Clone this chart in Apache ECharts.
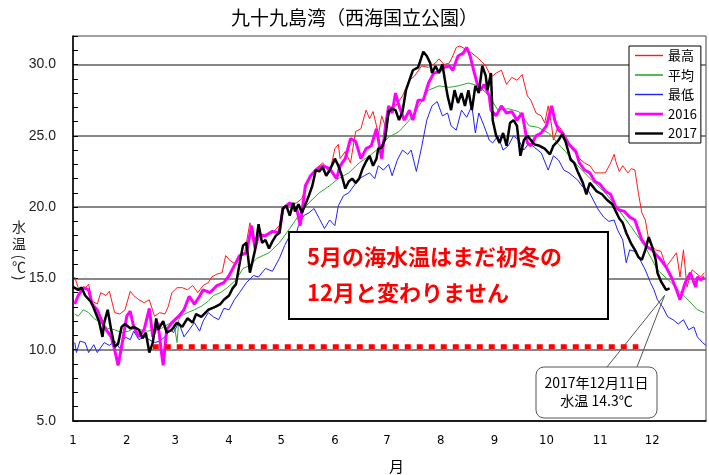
<!DOCTYPE html>
<html><head><meta charset="utf-8">
<script src="https://cdn.jsdelivr.net/npm/echarts@6/dist/echarts.min.js"></script>
<style>html,body{margin:0;padding:0;background:#fff}#c{width:709px;height:475px}</style>
</head><body><div id="c"></div>
<script>
const titleText = '九十九島湾（西海国立公園）';
const monthStartDays = [1, 32, 60, 91, 121, 152, 182, 213, 244, 274, 305, 335];
const monthLabels = ['1','2','3','4','5','6','7','8','9','10','11','12'];
const seriesNames = ['最高', '平均', '最低', '2016', '2017'];
const yNameChars = ['水', '温', '(', '℃', ')'];

// [day of year, °C]
const tMax = [[2,15.1],[4,14.35],[7,14.2],[10,14.6],[12,13.4],[15,13.2],[17,14.0],[20,13.8],[22,14.1],[25,12.6],[28,12.5],[31,12.8],[34,14.1],[36,13.8],[39,13.5],[42,13.3],[45,13.5],[48,12.35],[51,12.6],[54,12.5],[56,13.05],[58,14.0],[61,14.35],[64,14.35],[67,14.2],[70,14.5],[73,14.0],[76,14.5],[79,14.7],[81,15.1],[84,15.3],[87,15.4],[89,16.6],[92,16.2],[95,16.0],[97,16.4],[100,16.8],[103,18.9],[105,17.5],[108,18.2],[112,18.0],[116,18.2],[120,18.7],[123,20.1],[126,20.1],[130,20.3],[133,20.6],[137,22.0],[141,22.7],[145,23.1],[149,22.4],[152,24.1],[154,24.4],[155,23.4],[158,23.9],[161,23.1],[164,25.3],[167,25.5],[170,26.8],[172,26.2],[174,26.7],[176,25.7],[177,25.0],[179,26.4],[181,25.7],[185,27.1],[187,27.1],[191,27.8],[195,28.9],[198,29.2],[202,29.9],[206,29.8],[210,30.1],[212,30.4],[215,30.0],[218,30.1],[220,30.6],[222,31.2],[224,31.3],[227,31.1],[231,30.8],[235,30.4],[239,29.9],[241,29.4],[242,29.1],[245,29.4],[248,29.6],[251,28.6],[254,29.1],[257,28.9],[260,29.3],[263,27.8],[265,27.5],[268,26.6],[271,26.4],[273,25.9],[275,27.1],[277,25.7],[278,24.7],[280,25.4],[281,25.7],[284,25.2],[287,24.5],[289,24.0],[291,23.8],[293,23.4],[296,23.1],[299,22.9],[302,22.4],[305,22.4],[308,22.4],[311,23.1],[313,23.7],[314,23.2],[316,22.5],[318,22.9],[321,22.4],[323,22.7],[325,22.6],[327,21.0],[329,19.6],[331,19.1],[333,17.7],[335,17.2],[337,17.0],[340,16.9],[343,15.8],[346,16.3],[349,16.8],[351,15.1],[353,17.0],[355,14.4],[358,15.6],[360,15.4],[363,15.1],[365,15.4]];

const tAvg = [[2,12.5],[4,12.35],[7,12.8],[10,12.6],[13,12.2],[17,11.9],[21,11.5],[25,11.4],[29,11.2],[33,11.3],[36,11.5],[40,11.4],[44,11.3],[48,11.4],[52,11.5],[56,11.8],[59,12.0],[61,10.5],[62,12.1],[63,12.35],[67,12.6],[71,12.8],[75,13.05],[79,13.4],[82,13.8],[86,14.0],[90,14.35],[95,14.9],[99,15.7],[103,15.9],[107,16.4],[114,16.8],[120,17.5],[126,18.5],[131,19.4],[137,20.3],[143,21.0],[149,21.5],[154,22.0],[160,22.4],[166,23.1],[172,23.6],[177,24.1],[183,24.9],[189,25.3],[195,26.1],[200,27.0],[206,28.2],[212,28.5],[218,28.4],[223,28.5],[229,28.7],[235,28.5],[241,27.8],[246,26.8],[252,26.9],[258,26.7],[264,25.7],[269,25.6],[275,25.2],[277,25.0],[281,24.4],[285,23.9],[292,22.9],[300,21.9],[308,21.0],[315,19.9],[323,18.6],[331,17.2],[338,15.6],[346,14.7],[354,13.7],[361,12.8],[365,12.6]];

const tMin = [[2,10.5],[3,9.8],[5,10.6],[8,10.5],[10,9.8],[13,10.35],[15,9.8],[19,10.5],[22,10.3],[25,10.6],[28,10.1],[31,10.9],[34,10.7],[36,11.3],[39,10.7],[42,10.9],[45,10.7],[48,10.5],[51,10.6],[54,10.9],[57,11.4],[59,11.2],[62,11.9],[65,10.9],[68,11.4],[71,11.9],[74,11.3],[76,12.0],[79,12.6],[82,12.3],[85,12.1],[88,12.9],[91,12.8],[94,13.5],[97,14.0],[101,14.7],[105,15.2],[108,15.1],[112,15.7],[116,15.5],[120,16.4],[123,17.3],[126,18.0],[129,17.8],[131,18.7],[134,19.4],[137,19.6],[140,19.9],[143,19.2],[146,18.5],[149,19.1],[152,18.7],[154,20.1],[157,20.8],[160,21.0],[163,21.5],[166,22.0],[169,22.2],[172,22.4],[175,22.0],[177,22.9],[180,22.6],[183,23.0],[185,22.2],[188,23.3],[191,24.0],[194,23.7],[196,24.0],[199,22.5],[202,24.2],[205,26.1],[208,27.1],[211,27.4],[214,26.4],[217,26.6],[219,25.7],[222,25.4],[225,26.8],[228,26.3],[231,27.1],[233,25.2],[235,26.6],[238,25.7],[241,24.7],[243,24.5],[246,25.0],[249,24.0],[252,24.3],[255,25.0],[258,24.7],[261,24.0],[264,24.5],[267,24.2],[271,23.8],[275,22.6],[278,23.6],[281,23.3],[284,22.6],[287,22.4],[290,22.1],[292,21.9],[295,21.4],[298,21.2],[301,20.5],[304,19.8],[307,19.3],[310,19.0],[313,19.1],[315,18.4],[318,17.7],[320,16.1],[322,17.0],[325,16.9],[328,16.3],[331,15.6],[334,14.7],[336,14.2],[338,13.5],[341,13.0],[344,12.3],[347,12.1],[350,11.8],[353,12.1],[356,11.4],[359,11.6],[361,10.9],[364,10.5],[366,10.3]];

const t2016 = [[2,13.2],[4,13.8],[7,14.35],[10,14.2],[12,13.2],[15,12.8],[19,11.6],[23,10.9],[25,10.0],[27,8.9],[29,10.2],[32,12.35],[34,12.7],[36,11.6],[39,10.9],[42,11.4],[45,12.9],[47,10.9],[50,11.9],[52,9.8],[53,8.9],[55,11.4],[58,11.9],[62,12.35],[65,12.8],[68,13.75],[71,13.2],[74,13.75],[76,14.2],[80,14.0],[84,14.5],[88,14.7],[91,15.2],[94,15.9],[97,16.6],[101,16.8],[104,18.7],[106,17.1],[108,18.0],[112,18.0],[116,18.3],[120,18.2],[122,19.9],[126,20.3],[130,19.9],[132,18.7],[135,21.5],[138,22.2],[141,22.6],[145,22.9],[149,22.7],[153,22.0],[155,22.9],[158,23.4],[161,24.8],[164,24.6],[167,23.4],[170,24.1],[173,24.3],[176,25.5],[177,24.8],[179,23.4],[181,25.5],[183,27.1],[185,26.6],[187,28.0],[189,27.1],[192,26.1],[195,26.8],[197,26.1],[200,27.5],[203,27.5],[206,28.7],[209,29.4],[212,29.5],[215,29.8],[218,29.9],[220,29.6],[223,30.6],[226,30.8],[228,31.2],[230,30.6],[232,29.6],[234,28.7],[236,28.2],[238,28.6],[241,27.8],[242,26.8],[245,26.4],[248,27.1],[251,26.6],[254,26.7],[257,26.1],[260,26.6],[263,24.5],[265,24.3],[268,25.0],[271,25.2],[274,25.7],[277,27.1],[279,26.0],[281,25.4],[283,25.2],[287,24.4],[291,23.9],[293,23.1],[296,22.6],[299,22.4],[302,21.8],[305,21.6],[308,21.1],[311,20.9],[314,20.0],[316,19.8],[319,19.7],[322,19.3],[325,19.1],[327,18.4],[329,17.7],[332,17.2],[335,17.0],[337,16.7],[340,16.3],[343,15.8],[346,15.1],[349,14.2],[351,13.5],[354,14.7],[357,15.4],[360,14.4],[361,15.1],[363,14.9],[365,15.1]];

const t2017 = [[1,14.4],[4,14.2],[6,14.35],[8,13.8],[11,13.4],[12,13.2],[16,12.0],[18,10.9],[19,11.9],[21,12.8],[23,11.4],[25,10.2],[27,10.4],[29,11.6],[31,11.8],[34,11.5],[36,11.6],[39,11.4],[41,10.8],[43,11.2],[45,9.8],[47,10.5],[49,12.2],[50,11.4],[53,12.0],[55,11.2],[58,11.4],[61,11.9],[64,11.6],[67,12.2],[70,11.9],[72,12.5],[75,12.3],[79,12.8],[83,13.0],[86,13.2],[88,13.5],[91,13.8],[93,14.3],[95,14.6],[97,16.0],[99,17.3],[101,17.5],[103,15.4],[106,17.0],[108,18.8],[110,17.5],[112,17.7],[114,17.1],[116,17.6],[118,18.0],[120,18.2],[122,19.9],[124,20.1],[126,19.4],[128,20.3],[129,19.7],[131,20.2],[133,19.6],[135,20.2],[137,20.8],[139,21.5],[141,22.6],[143,22.5],[145,22.8],[147,22.2],[149,22.6],[151,23.1],[152,23.4],[154,22.9],[156,22.2],[158,21.3],[160,21.8],[162,22.0],[164,21.7],[166,22.0],[168,22.7],[170,23.2],[172,23.6],[174,22.9],[176,23.4],[177,24.1],[179,24.2],[181,24.8],[183,26.7],[185,26.9],[187,26.8],[189,26.1],[191,26.7],[193,28.2],[195,28.9],[197,29.6],[200,29.8],[203,30.9],[205,30.6],[206,30.7],[207,30.1],[208,29.4],[210,29.9],[212,29.4],[214,30.0],[216,28.5],[217,27.8],[219,26.8],[221,28.2],[223,27.3],[225,28.0],[227,27.1],[229,28.2],[231,26.8],[233,28.5],[235,28.0],[237,29.9],[239,29.2],[240,28.2],[242,29.4],[243,26.1],[245,25.0],[247,24.5],[249,25.2],[251,24.3],[253,25.9],[255,26.1],[257,25.7],[259,23.6],[261,24.7],[263,25.0],[267,24.4],[270,24.3],[273,24.1],[276,23.7],[278,24.3],[281,24.7],[283,25.1],[285,24.6],[288,23.3],[290,23.1],[292,22.5],[295,21.7],[297,20.9],[299,21.7],[301,21.4],[303,21.1],[306,20.9],[309,20.5],[312,20.2],[314,19.7],[316,19.2],[318,18.9],[320,18.2],[323,17.4],[325,17.0],[327,16.5],[329,16.3],[331,17.0],[333,17.9],[335,17.2],[337,16.3],[338,15.4],[340,14.8],[343,14.2],[345,14.3]];

const mayLevel = [[47,10.2],[327,10.2]];
const noteLines = ['5月の海水温はまだ初冬の', '12月と変わりません'];
const calloutLines = ['2017年12月11日', '水温 14.3℃'];

const CJK = "'Noto Sans CJK JP', sans-serif";
const chart = echarts.init(document.getElementById('c'), null, {renderer: 'canvas'});

const colors = ['#ff1a1a', '#2ea82e', '#1f1fff', '#ff00ff', '#000000'];
const widths = [1, 1, 1, 3, 2.5];
const dataSets = [tMax, tAvg, tMin, t2016, t2017];
const legendIcons = ['path://M0,0H28V1.4H0Z', 'path://M0,0H28V1.6H0Z', 'path://M0,0H28V1.4H0Z', 'path://M0,0H28V2.6H0Z', 'path://M0,0H28V2.4H0Z'];

const series = seriesNames.map((n, i) => ({
  name: n, type: 'line', data: dataSets[i], symbol: 'none', showSymbol: false,
  lineStyle: {color: colors[i], width: widths[i]}, itemStyle: {color: colors[i]},
  z: 3 + i, silent: true
}));
series.push({
  name: 'mayLevel', type: 'line', data: mayLevel, symbol: 'none',
  lineStyle: {color: '#ff0000', width: 5, type: [6, 6], cap: 'butt'}, z: 10, silent: true
});

const splitColors = ['#606060', 'rgba(0,0,0,0)', 'rgba(0,0,0,0)', 'rgba(0,0,0,0)', 'rgba(0,0,0,0)'];

chart.setOption({
  animation: false,
  textStyle: {fontFamily: CJK},
  title: {
    text: titleText, left: 'center', top: 3,
    textStyle: {fontFamily: CJK, fontSize: 19, fontWeight: 'normal', color: '#000'}
  },
  legend: {
    data: seriesNames.map((n, i) => ({name: n, icon: legendIcons[i], itemStyle: {color: colors[i]}})),
    orient: 'vertical', left: 629, top: 46,
    padding: [3, 4, 3, 6], itemGap: 6.5, itemWidth: 28, itemHeight: 16, symbolKeepAspect: true,
    borderColor: '#000', borderWidth: 1, backgroundColor: '#fff', z: 20,
    textStyle: {fontSize: 13, color: '#000', fontFamily: CJK}
  },
  grid: {left: 73, right: 3, top: 36, bottom: 54, show: true, borderColor: '#444', borderWidth: 1,
         containLabel: false, outerBoundsMode: 'none'},
  xAxis: {
    type: 'value', min: 1, max: 366,
    name: '月', nameLocation: 'middle', nameGap: 38,
    nameTextStyle: {fontSize: 15, color: '#000', fontFamily: CJK, padding: [0, 0, 0, 14]},
    axisLine: {lineStyle: {color: '#000', width: 1.5}},
    axisTick: {show: false},
    splitLine: {show: false},
    axisLabel: {
      customValues: monthStartDays, margin: 13, color: '#000', fontSize: 13,
      fontFamily: "'Liberation Sans Narrow', 'DejaVu Sans Condensed', sans-serif",
      formatter: v => monthLabels[monthStartDays.indexOf(Math.round(v))] || ''
    }
  },
  yAxis: {
    type: 'value', min: 5, max: 32, interval: 1,
    axisLine: {show: true, lineStyle: {color: '#000', width: 1.5}},
    axisTick: {show: true, inside: true, length: 5, lineStyle: {color: '#000'}},
    splitLine: {show: true, lineStyle: {color: splitColors, width: 1.5}},
    axisLabel: {
      margin: 17, color: '#222', fontSize: 14, fontFamily: "'Liberation Sans', Arial, sans-serif",
      formatter: v => (v % 5 === 0 ? v.toFixed(1) : '')
    }
  },
  series: series
});

// annotations
const last = t2017[t2017.length - 1];
const pt = chart.convertToPixel({gridIndex: 0}, last);
const apex = [pt[0] - 5, pt[1] + 7];
const boxX = 536, boxY = 367, boxW = 121, boxH = 51;
const yNameY = [227, 244, 257, 267, 278];
const yNameRot = [0, 0, -Math.PI / 2, 0, -Math.PI / 2];

const graphics = yNameChars.map((ch, i) => ({
  type: 'text', z: 100, x: 19, y: yNameY[i], rotation: yNameRot[i],
  style: {text: ch, fill: '#222', fontSize: 14, fontFamily: CJK, align: 'center', verticalAlign: 'middle'}
}));

chart.setOption({
  graphic: graphics.concat([
    {
      type: 'rect', z: 100, shape: {x: 289, y: 232, width: 319, height: 87},
      style: {fill: '#fff', stroke: '#000', lineWidth: 2}
    },
    {
      type: 'text', z: 101, x: 307, y: 257,
      style: {text: noteLines[0], fill: '#ff0000', fontSize: 22, fontWeight: 'bold', fontFamily: CJK, verticalAlign: 'middle'}
    },
    {
      type: 'text', z: 101, x: 307, y: 293,
      style: {text: noteLines[1], fill: '#ff0000', fontSize: 22, fontWeight: 'bold', fontFamily: CJK, verticalAlign: 'middle'}
    },
    {
      type: 'rect', z: 100, shape: {x: boxX, y: boxY, width: boxW, height: boxH, r: 8},
      style: {fill: '#fff', stroke: '#555', lineWidth: 1}
    },
    {
      type: 'polyline', z: 101, shape: {points: [[607, boxY], apex, [637, boxY]]},
      style: {stroke: '#555', lineWidth: 1, fill: null}
    },
    {
      type: 'text', z: 101, x: boxX + boxW / 2, y: 383,
      style: {text: calloutLines[0], fill: '#000', fontSize: 14, fontFamily: CJK, align: 'center', verticalAlign: 'middle'}
    },
    {
      type: 'text', z: 101, x: boxX + boxW / 2, y: 401,
      style: {text: calloutLines[1], fill: '#000', fontSize: 14, fontFamily: CJK, align: 'center', verticalAlign: 'middle'}
    }
  ])
});
</script>
</body></html>
